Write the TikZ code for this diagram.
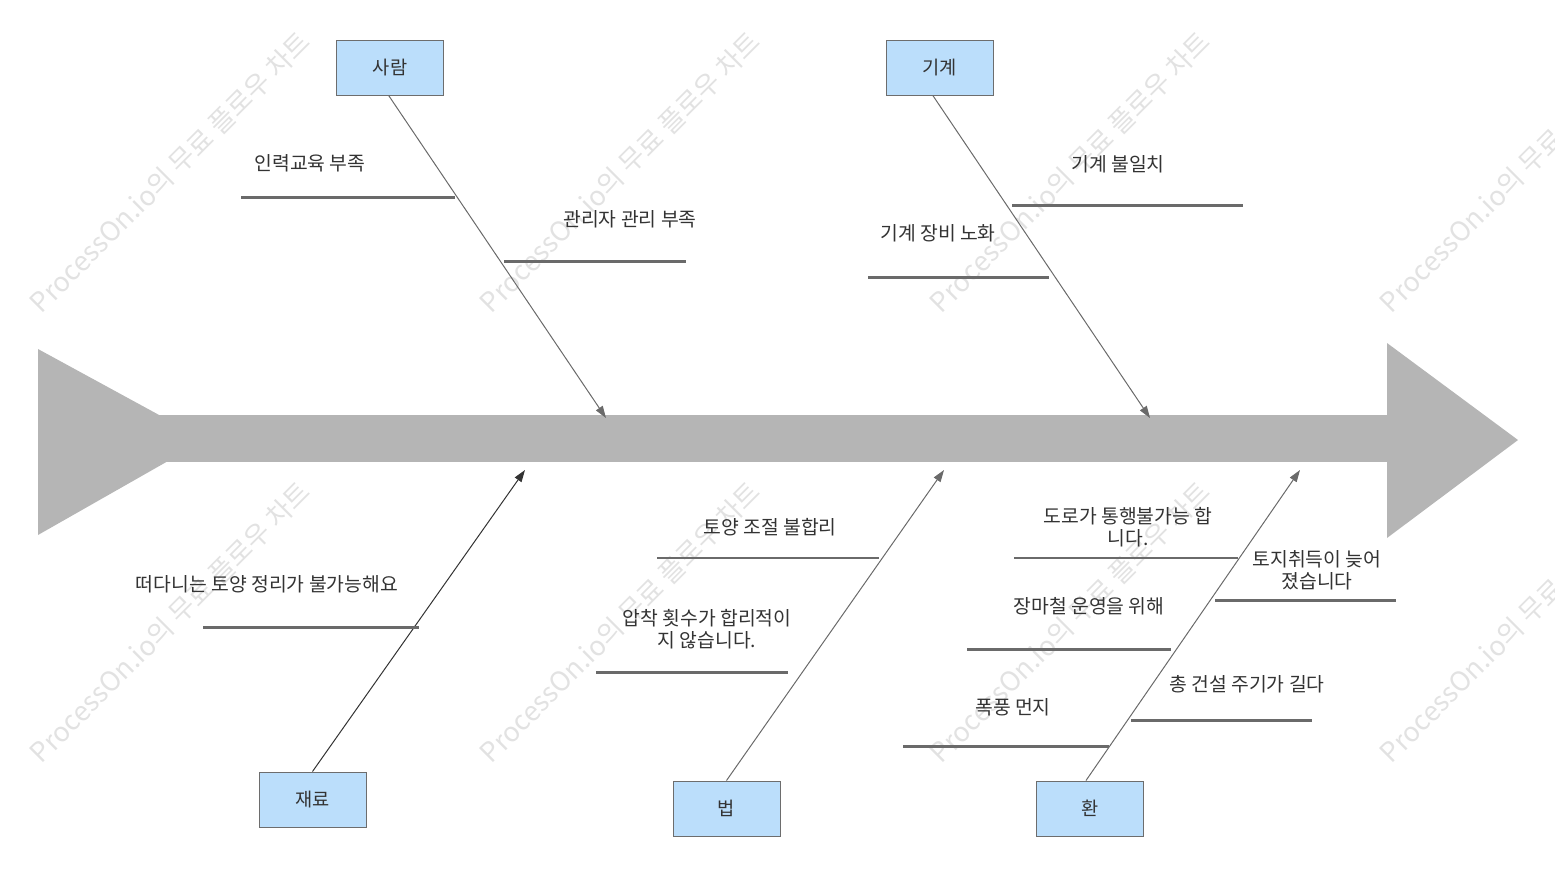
\documentclass[tikz,border=0pt]{standalone}
\usepackage{fontspec}
\setmainfont{Noto Sans CJK KR}
\usepackage{xcolor}
\definecolor{ink}{HTML}{333333}
\definecolor{bone}{HTML}{6A6A6A}
\definecolor{spine}{HTML}{B5B5B5}
\definecolor{cBoxBg}{HTML}{BBDEFB}
\definecolor{cBoxFr}{HTML}{6D6D6D}
\definecolor{wmgray}{HTML}{E2E2E2}
\usetikzlibrary{arrows.meta,positioning}
\tikzset{>={Triangle[length=9pt,width=6pt]},
  box/.style={draw=cBoxFr,fill=cBoxBg,line width=0.75pt,minimum width=80.25pt,
    minimum height=41.25pt,inner sep=0pt,font=\fontsize{14}{16}\selectfont,text=ink},
  flow/.style={->,bone,line width=0.75pt},
  rib/.style={bone,line width=2.25pt},
  thinrib/.style={bone,line width=1.4pt},
  lbl/.style={font=\fontsize{14.5}{16.5}\selectfont,text=ink,align=center,inner sep=0pt},
  wm/.style={font=\fontsize{20.3}{20}\selectfont,text=wmgray,rotate=45}}

\begin{document}
\begin{tikzpicture}[x=0.75pt,y=-0.75pt]
  \useasboundingbox (0,0) rectangle (1555,871);
  % watermark
  \foreach \wx in {170,620,1070,1520}
    \foreach \wy in {172,622}
      \node[wm] at (\wx,\wy) {ProcessOn.io의 무료 플로우 차트};
  % spine, tail and head
  \fill[spine] (38,349) -- (205,440) -- (38,535) -- cycle;
  \fill[spine] (150,415) rectangle (1390,462);
  \fill[spine] (1387,343) -- (1518,440) -- (1387,538) -- cycle;
  \node[box] (people) at (390,67.5) {사람};
  \node[box] (machine) at (939.5,67.5) {기계};
  \node[box] (material) at (312.5,799.5) {재료};
  \node[box] (method) at (726.5,808.5) {법};
  \node[box] (env) at (1090,808.5) {환};
  \coordinate (peopleTip) at (606,418);
  \coordinate (machineTip) at (1150,418);
  \coordinate (materialTip) at (525,470);
  \coordinate (methodTip) at (944,470);
  \coordinate (envTip) at (1300,470);
  \draw[flow] ([xshift=-1pt]people.south) -- (peopleTip);
  \draw[flow] ([xshift=-5pt]machine.south) -- (machineTip);
  \draw[flow,ink] (material.north) -- (materialTip);
  \draw[flow] (method.north) -- (methodTip);
  \draw[flow] ([xshift=-3pt]env.north) -- (envTip);
  % causes
  \foreach \xa/\xb/\yy in {241/455/197,504/686/261,1012/1243/205,868/1049/277,
      203/419/627,596/788/672,1215/1396/600,967/1171/649,1131/1312/720,903/1109/746}
    \draw[rib] (\xa,\yy) -- (\xb,\yy);
  \foreach \xa/\xb/\yy in {657/879/558,1014/1238/558}
    \draw[thinrib] (\xa,\yy) -- (\xb,\yy);
  \node[lbl] (training) at (310,163) {인력교육 부족};
  \node[lbl] (manager) at (630,219) {관리자 관리 부족};
  \node[lbl] (mismatch) at (1118,164) {기계 불일치};
  \node[lbl] (aging) at (938,233) {기계 장비 노화};
  \node[lbl] (floating) at (267,584) {떠다니는 토양 정리가 불가능해요};
  \node[lbl] (soil) at (770,527) {토양 조절 불합리};
  \node[lbl] (press) at (707,629.5) {압착 횟수가 합리적이\\지 않습니다.};
  \node[lbl] (road) at (1128,527.5) {도로가 통행불가능 합\\니다.};
  \node[lbl] (land) at (1317,570) {토지취득이 늦어\\졌습니다};
  \node[lbl] (rainy) at (1089,606) {장마철 운영을 위해};
  \node[lbl] (cycle) at (1247,684) {총 건설 주기가 길다};
  \node[lbl] (dust) at (1013,707) {폭풍 먼지};
\end{tikzpicture}
\end{document}
